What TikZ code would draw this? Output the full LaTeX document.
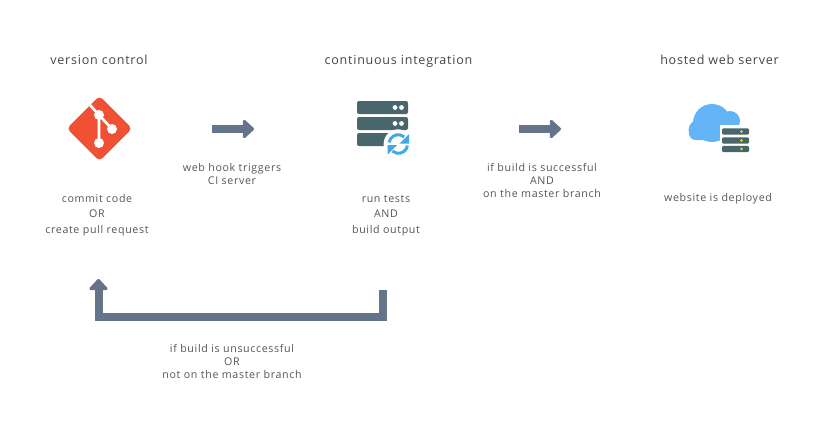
\documentclass[tikz,border=0pt]{standalone}
\usepackage{fontspec}
\setmainfont{Open Sans}[LetterSpace=6]
\usepackage{xcolor}
\usetikzlibrary{arrows.meta,positioning,shapes.geometric}
\definecolor{gitRed}{HTML}{F05033}
\definecolor{flowGrey}{HTML}{64748B}
\definecolor{rackTeal}{HTML}{48666C}
\definecolor{syncBlue}{HTML}{3FA9E8}
\definecolor{cloudBlue}{HTML}{62B4F6}
\definecolor{ink}{HTML}{555555}

\begin{document}
\begin{tikzpicture}[x=0.75pt,y=-0.75pt,
  head/.style={font=\fontsize{9.4}{12}\selectfont,text=ink!80!black,inner sep=0pt,anchor=base},
  note/.style={font=\fontsize{8}{9.75}\selectfont,text=ink,inner sep=0pt,align=center},
  wide/.style={font=\fontsize{8}{11.6}\selectfont},
  flow/.style={draw=flowGrey,line width=6pt,-{Triangle[length=9pt,width=16pt,round]}},
  rack/.style={fill=rackTeal,rounded corners=1.5pt}]
\useasboundingbox (0,0) rectangle (823,425);
% --- titles ---
\node[head] (vcsTitle) at (99,64) {version control};
\node[head] (ciTitle) at (398.5,64) {continuous integration};
\node[head] (hostTitle) at (719.5,64) {hosted web server};
% --- git icon ---
\node[diamond,fill=gitRed,rounded corners=3pt,minimum width=49pt,minimum height=49pt,inner sep=0pt] (gitIcon) at (99.5,128.5) {};
\begin{scope}[white]
  \draw[line width=2pt] (90,105) -- (99,115) -- (99,143);
  \draw[line width=2pt] (99,115) -- (112,129);
  \foreach \x/\y/\n in {99/115/a,112/129/b,99/143/c} {\node[circle,fill=white,minimum size=7.5pt,inner sep=0pt] (git\n) at (\x,\y) {};}
\end{scope}
% --- CI server icon ---
\foreach \y/\n in {107.5/a,123.5/b,139.5/c} {\fill[rack] (357,\y-6.5) rectangle (408,\y+6.5);
  \fill[white] (395,\y) circle (2.4) (401.5,\y) circle (2.4);}
\node[circle,fill=white,minimum size=22pt,inner sep=0pt] (syncIcon) at (398.3,144) {};
\begin{scope}[syncBlue,line width=2.2pt]
  \draw (389.1,142.4) arc (190:310:9.3);
  \fill (409,134) -- (409,143.5) -- (399.5,143.5) -- cycle;
  \draw (407.5,145.6) arc (10:130:9.3);
  \fill (387.5,145) -- (397,145) -- (387.5,154.5) -- cycle;
\end{scope}
% --- hosting icon ---
\begin{scope}[cloudBlue]
  \fill (712,123) circle (19);
  \fill (698.5,130) circle (10);
  \fill (730,121) circle (10);
  \fill[rounded corners=5pt] (689,125) rectangle (744,140);
\end{scope}
\fill[white] (720,125) rectangle (752,154);
\foreach \y/\n in {131.5/a,140.5/b,149/c} {\fill[rack,rounded corners=1pt] (722,\y-3.2) rectangle (749,\y+3.2);
  \fill[yellow!80!orange] (741.5,\y) circle (1.3);
  \fill[green!60!black] (745.5,\y) circle (1.1);}
% --- notes ---
\node[note,wide] (commitNote) at (97,215) {commit code\\OR\\create pull request};
\node[note] (hookNote) at (232,174) {web hook triggers\\CI server};
\node[note,wide] (testNote) at (386,215.5) {run tests\\AND\\build output};
\node[note] (deployNote) at (542,180.5) {if build is successful\\AND\\on the master branch};
\node[note] (siteNote) at (718,198.5) {website is deployed};
\node[note] (failNote) at (232,361.5) {if build is unsuccessful\\OR\\not on the master branch};
% --- arrows ---
\coordinate (hookA) at (212,129);
\coordinate (hookB) at (254,129);
\coordinate (deployA) at (519,129);
\coordinate (deployB) at (561,129);
\coordinate (failA) at (382.5,290);
\coordinate (failB) at (382.5,317);
\coordinate (failC) at (98.5,317);
\coordinate (failD) at (98.5,279);
\draw[flow] (hookA) -- (hookB);
\draw[flow] (deployA) -- (deployB);
\draw[flow,line join=miter] (failA) -- (failB) -- (failC) -- (failD);
\end{tikzpicture}
\end{document}
